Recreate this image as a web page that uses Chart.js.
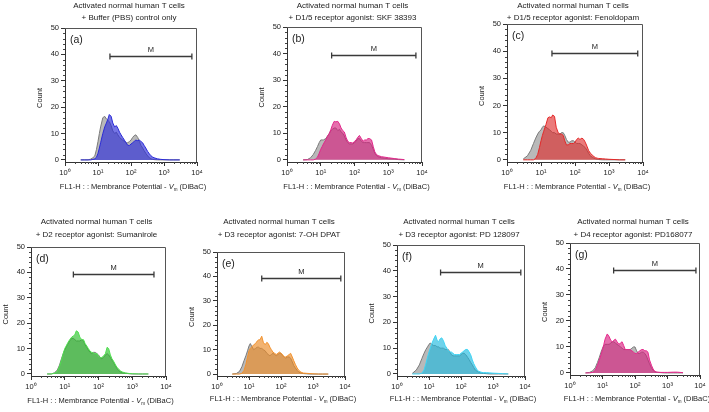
<!DOCTYPE html>
<html>
<head>
<meta charset="utf-8">
<script src="https://cdn.jsdelivr.net/npm/chart.js@4.4.0/dist/chart.umd.min.js"></script>
<style>
	html, body { margin: 0; padding: 0; background: #fff; }
	body { width: 709px; height: 412px; position: relative; overflow: hidden; }
	.panel { position: absolute; }
</style>
</head>
<body>
<script>
// FL1-H intensity bins (log axis)
const xs = [3, 4, 5, 6, 7, 8, 9, 10, 11, 12, 14, 16, 18, 20, 22, 25, 28, 32, 36, 40, 45, 50, 56, 63, 71, 80, 90, 100,
	112, 125, 140, 160, 180, 200, 225, 250, 280, 320, 360, 400, 450, 500, 630, 800, 1000, 1500, 2000, 3000];

// grey overlay = buffer control, coloured = treated
const controlA = [0, 0, 0, 0.3, 0.8, 1.5, 4, 7, 10, 12.5, 16, 16.5, 15.5, 15, 14.5, 13, 11, 10, 10.5, 9.5, 8.5, 8, 7.5, 7, 6.5, 6.5, 7, 7.5, 8.5, 9.2, 9.5, 8.5, 7, 5.5, 4.5, 3.5, 2.5, 1.5, 0.8, 0.4, 0.2, 0.1, 0, 0, 0, 0, 0, 0];
const treatedA = [0, 0, 0, 0, 0.2, 0.4, 1, 2.5, 4.5, 6.5, 10, 12.5, 14, 15.5, 17.2, 16.5, 14, 12.5, 13, 12, 10.5, 9.5, 8.5, 7.5, 6.5, 5.5, 5.5, 6, 6.5, 7, 7.5, 7.3, 7.5, 7, 6.5, 5.5, 4.5, 3.2, 2.3, 1.6, 1.1, 0.8, 0.4, 0.2, 0.1, 0, 0, 0];

const controlB = [0, 0.1, 0.8, 2, 3.5, 5, 6.5, 7.5, 7.5, 7.5, 8, 9, 10, 11, 11.5, 12, 12, 11, 11.5, 10.5, 10, 9, 7.5, 6.5, 6, 6, 6, 6.5, 7, 8, 8, 7, 6.5, 6.5, 6.5, 6.5, 6.5, 5.5, 4, 2.5, 1.6, 1.2, 0.8, 0.6, 0.4, 0.3, 0.1, 0];
const treatedB = [0, 0, 0, 0, 0.3, 1, 2.5, 4, 5, 6, 7.5, 9, 10, 11.5, 13, 14.5, 14.3, 14.5, 13.5, 12, 11, 10.5, 8.5, 7, 6.5, 6.5, 6.3, 7, 7.5, 8.5, 9.2, 8, 7, 7.5, 7.5, 8, 8, 7.5, 5, 3, 2, 1.6, 1.2, 1, 0.8, 0.5, 0.3, 0.1];

const controlC = [0.3, 1.5, 3.5, 6, 8, 9.5, 10.5, 11, 12, 12.5, 12, 11.5, 11, 10.5, 10, 10, 9.5, 9.5, 9.5, 10, 10, 9, 7.5, 6.5, 6.5, 7, 7, 6.5, 6, 6, 6, 5.5, 5, 4.5, 3.5, 2.5, 1.5, 1, 0.6, 0.4, 0.2, 0.1, 0, 0, 0, 0, 0, 0];
const treatedC = [0, 0, 0, 0, 0.5, 2, 4.5, 7, 9, 10.5, 13, 15.5, 15.8, 15.5, 16.5, 16, 12, 10, 9.5, 9.5, 9, 7, 5.5, 5.5, 6, 6, 6, 6.5, 7.5, 8, 7.5, 8, 7.5, 6.5, 5, 3.5, 2.5, 1.8, 1.2, 0.8, 0.6, 0.5, 0.4, 0.3, 0.2, 0.1, 0, 0];

const controlD = [0, 0, 0.5, 1.5, 3.5, 6, 8, 9.5, 10.5, 11.5, 13, 14, 14, 13.5, 13, 13, 13, 13.5, 13, 11.5, 10.5, 9.5, 8.5, 8, 8.5, 8.5, 8, 7.5, 6.5, 6, 6.5, 7.5, 8, 7.5, 6.5, 5.5, 4.5, 3, 2, 1.3, 0.8, 0.5, 0.3, 0.1, 0, 0, 0, 0];
const treatedD = [0, 0, 0.3, 1, 3, 5.5, 8, 10, 11, 12, 13.5, 14.5, 15, 15.5, 17, 16.5, 14.5, 13.5, 13.5, 12, 11, 10, 9, 8.5, 8.3, 8, 8, 7, 6.5, 6.5, 7, 8, 10.5, 10, 7.5, 6, 5, 3.5, 2.5, 1.8, 1.2, 0.8, 0.4, 0.2, 0.1, 0, 0, 0];

const controlE = [0, 0.2, 1, 3, 5.5, 7.5, 9.5, 11.5, 12.5, 11.5, 10, 10.5, 11, 11, 10.5, 10.5, 10, 9.5, 8.5, 8, 7.5, 8, 8.5, 8, 7.5, 8, 8.5, 8.5, 7.5, 7, 6.5, 7, 7, 6.5, 5, 3.5, 2.5, 1.5, 0.8, 0.5, 0.3, 0.2, 0.1, 0, 0, 0, 0, 0];
const treatedE = [0, 0, 0, 0.3, 1.5, 4, 7, 9.5, 10.5, 11, 12, 12.5, 13.5, 14, 14, 15.5, 13, 12, 13, 12.5, 11, 10, 9, 8.5, 8, 8.5, 9, 8.5, 8, 7, 7, 7.5, 8, 8.5, 7, 5.5, 4, 2.5, 1.5, 1, 0.6, 0.4, 0.3, 0.2, 0.1, 0, 0, 0];

const controlF = [0.2, 1.5, 3.5, 6, 8, 9.5, 10.5, 11.5, 12, 11.5, 11, 11, 10.5, 10.5, 10, 10, 10, 9.5, 9.5, 9.5, 8.5, 7.5, 7, 7, 7, 7, 7, 7.5, 8, 8, 7.5, 6.5, 5.5, 4.5, 3.5, 2.5, 1.5, 1, 0.6, 0.4, 0.3, 0.2, 0.1, 0, 0, 0, 0, 0];
const treatedF = [0, 0, 0, 0.3, 1.5, 4, 6.5, 8.5, 10, 11.5, 13.5, 15, 13, 12.5, 13.5, 14, 13, 11, 10, 9, 8.5, 8.5, 8, 7.5, 7.5, 7.5, 7.5, 8, 8.5, 9, 9.5, 9.5, 8.5, 7.5, 5.5, 4, 2.8, 1.5, 1, 0.8, 0.6, 0.5, 0.5, 0.4, 0.3, 0.2, 0.1, 0];

const controlG = [0, 0.2, 0.8, 2, 4, 6, 8, 9.5, 10.5, 11, 11, 11, 11.5, 12, 12, 11.5, 11, 10.5, 10, 9.5, 9, 9, 9, 9, 9, 9.5, 10, 10, 8.5, 7.5, 7.5, 8, 8, 7.5, 6.5, 5, 3.5, 2, 1, 0.5, 0.3, 0.2, 0.1, 0, 0, 0, 0, 0];
const treatedG = [0, 0, 0.2, 1, 3, 5, 7, 9, 11, 13, 15, 14, 12.5, 12, 12.5, 13, 12, 11, 11.5, 12, 10.5, 9, 9, 9, 9, 8.5, 8, 7.5, 7.5, 8, 8.5, 9, 9, 8.5, 8.5, 8, 5, 3, 1.5, 0.7, 0.4, 0.3, 0.2, 0.2, 0.2, 0.3, 0.3, 0.1];

const controls = [controlA, controlB, controlC, controlD, controlE, controlF, controlG];
const treated = [treatedA, treatedB, treatedC, treatedD, treatedE, treatedF, treatedG];

const panelLetters = ["(a)", "(b)", "(c)", "(d)", "(e)", "(f)", "(g)"];
const titleTop = "Activated normal human T cells";
const titleBottom = [
	"+ Buffer (PBS) control only",
	"+ D1/5 receptor agonist: SKF 38393",
	"+ D1/5 receptor agonist: Fenoldopam",
	"+ D2 receptor agonist: Sumanirole",
	"+ D3 receptor agonist: 7-OH DPAT",
	"+ D3 receptor agonist: PD 128097",
	"+ D4 receptor agonist: PD168077"
];

// marker gate "M"
const gateStart = [23, 21, 21, 18, 25, 23, 22];
const gateEnd = [7000, 6600, 7000, 4400, 7400, 7400, 7500];
const gateLevel = 39.5;

const yTicks = [0, 10, 20, 30, 40, 50];
const xTicks = [1, 10, 100, 1000, 10000];
const xTickLabels = ["10\u2070", "10\u00b9", "10\u00b2", "10\u00b3", "10\u2074"];

// layout: plot box [left, top(50), right, bottom(axis)], title line centres, x-title centre
const boxes = [
	[65, 28, 197, 162, 6, 18, 187],
	[287, 27, 422, 162, 6, 18, 187],
	[507, 24, 643, 162, 6, 18, 187],
	[31, 247, 166, 376, 222, 235, 401],
	[217, 252, 345, 376, 222, 235, 399],
	[397, 245, 525, 376, 222, 235, 399],
	[570, 243, 700, 375, 222, 235, 399]
];

const lineColors = ["#2a2ad6", "#e0288a", "#e42828", "#4fe04f", "#f2922e", "#3ed4f4", "#e6288c"];
const fillColors = ["rgba(45,45,215,0.66)", "rgba(215,30,125,0.64)", "rgba(222,40,40,0.62)", "rgba(40,190,40,0.64)",
	"rgba(236,140,40,0.66)", "rgba(30,185,222,0.64)", "rgba(215,30,125,0.64)"];

const FONT = "'Liberation Sans', Arial, Helvetica, sans-serif";

function drawXTitle(ctx, cx, cy) {
	const parts = [
		{ t: "FL1-H : : Membrance Potential - ", f: "7.5px " + FONT, dy: 0 },
		{ t: "V", f: "italic 7.5px " + FONT, dy: 0 },
		{ t: "m", f: "4.5px " + FONT, dy: 3 },
		{ t: " (DiBaC)", f: "7.5px " + FONT, dy: 0 }
	];
	let total = 0;
	parts.forEach(function (p) {
		ctx.font = p.f;
		p.w = ctx.measureText(p.t).width;
		total += p.w;
	});
	let x = cx - total / 2;
	ctx.textAlign = "left";
	ctx.textBaseline = "middle";
	parts.forEach(function (p) {
		ctx.font = p.f;
		ctx.fillText(p.t, x, cy + p.dy);
		x += p.w;
	});
}

function panelPlugin(i) {
	return {
		id: "panel" + i,
		afterDraw: function (chart) {
			const ctx = chart.ctx;
			const area = chart.chartArea;
			const sx = chart.scales.x;
			const sy = chart.scales.y;
			const oy = parseFloat(chart.canvas.parentNode.style.top);
			const b = boxes[i];

			ctx.save();
			// box top / right
			ctx.strokeStyle = "#555";
			ctx.lineWidth = 1;
			ctx.beginPath();
			ctx.moveTo(area.left, area.top + 0.5);
			ctx.lineTo(area.right - 0.5, area.top + 0.5);
			ctx.lineTo(area.right - 0.5, area.bottom);
			ctx.stroke();

			// minor ticks
			ctx.strokeStyle = "#444";
			ctx.beginPath();
			for (let k = 0; k < 4; k++) {
				for (let m = 2; m < 10; m++) {
					const px = Math.round(sx.getPixelForValue(m * Math.pow(10, k))) + 0.5;
					ctx.moveTo(px, area.bottom);
					ctx.lineTo(px, area.bottom + 2);
				}
			}
			for (let v = 2; v < 50; v += 2) {
				if (v % 10 === 0) continue;
				const py = Math.round(sy.getPixelForValue(v)) + 0.5;
				ctx.moveTo(area.left, py);
				ctx.lineTo(area.left - 2, py);
			}
			ctx.stroke();

			// gate bracket
			const gy = Math.round(sy.getPixelForValue(gateLevel)) + 0.5;
			const g1 = sx.getPixelForValue(gateStart[i]);
			const g2 = sx.getPixelForValue(gateEnd[i]);
			ctx.strokeStyle = "#3a3a3a";
			ctx.lineWidth = 1.3;
			ctx.beginPath();
			ctx.moveTo(g1, gy);
			ctx.lineTo(g2, gy);
			ctx.moveTo(g1, gy - 3);
			ctx.lineTo(g1, gy + 3);
			ctx.moveTo(g2, gy - 3);
			ctx.lineTo(g2, gy + 3);
			ctx.stroke();

			ctx.fillStyle = "#222";
			ctx.font = "7.5px " + FONT;
			ctx.textAlign = "center";
			ctx.textBaseline = "alphabetic";
			ctx.fillText("M", sx.getPixelForValue(Math.sqrt(gateStart[i] * gateEnd[i])), gy - 5);

			// panel letter
			ctx.font = "10.5px " + FONT;
			ctx.textAlign = "left";
			ctx.fillText(panelLetters[i], area.left + 5, area.top + 15);

			// titles
			const cx = (area.left + area.right) / 2 - 2;
			ctx.font = "8px " + FONT;
			ctx.textAlign = "center";
			ctx.textBaseline = "middle";
			ctx.fillText(titleTop, cx, b[4] - oy);
			ctx.fillText(titleBottom[i], cx, b[5] - oy);

			// y title
			ctx.save();
			ctx.translate(area.left - 25, (area.top + area.bottom) / 2 + 3);
			ctx.rotate(-Math.PI / 2);
			ctx.font = "7.5px " + FONT;
			ctx.fillText("Count", 0, 0);
			ctx.restore();

			// x title
			drawXTitle(ctx, (area.left + area.right) / 2 + 2, b[6] - oy);
			ctx.restore();
		}
	};
}

const padL = 48, padT = 54, padR = 12, padB = 40;

boxes.forEach(function (b, i) {
	const div = document.createElement("div");
	div.className = "panel";
	const w = b[2] - b[0] + padL + padR;
	const h = b[3] - b[1] + padT + padB;
	div.style.left = (b[0] - padL) + "px";
	div.style.top = (b[1] - padT) + "px";
	div.style.width = w + "px";
	div.style.height = h + "px";
	const canvas = document.createElement("canvas");
	canvas.width = w;
	canvas.height = h;
	div.appendChild(canvas);
	document.body.appendChild(div);

	new Chart(canvas, {
		type: "line",
		data: {
			datasets: [
				{
					data: xs.map((x, j) => ({ x: x, y: treated[i][j] })),
					borderColor: lineColors[i],
					backgroundColor: fillColors[i],
					borderWidth: 1,
					fill: "origin",
					pointRadius: 0,
					tension: 0
				},
				{
					data: xs.map((x, j) => ({ x: x, y: controls[i][j] })),
					borderColor: "#7a7a7a",
					backgroundColor: "#b9b9b9",
					borderWidth: 1,
					fill: "origin",
					pointRadius: 0,
					tension: 0
				}
			]
		},
		options: {
			responsive: false,
			animation: false,
			devicePixelRatio: 1,
			layout: { padding: { left: 0, top: padT, right: padR, bottom: 0 } },
			plugins: {
				legend: { display: false },
				tooltip: { enabled: false },
				title: { display: false }
			},
			scales: {
				x: {
					type: "logarithmic",
					min: 1,
					max: 10000,
					afterBuildTicks: function (s) { s.ticks = xTicks.map(v => ({ value: v })); },
					afterFit: function (s) { s.height = padB; },
					ticks: {
						autoSkip: false,
						maxRotation: 0,
						padding: 2,
						color: "#222",
						font: { size: 7.5, family: FONT },
						callback: function (v) {
							const k = xTicks.indexOf(v);
							return k >= 0 ? xTickLabels[k] : "";
						}
					},
					grid: { drawOnChartArea: false, drawTicks: true, tickLength: 4, tickColor: "#333" },
					border: { color: "#333", width: 1 }
				},
				y: {
					min: -0.8,
					max: 50,
					afterBuildTicks: function (s) { s.ticks = yTicks.map(v => ({ value: v })); },
					afterFit: function (s) { s.width = padL; },
					ticks: {
						padding: 2,
						color: "#222",
						font: { size: 7.5, family: FONT }
					},
					grid: { drawOnChartArea: false, drawTicks: true, tickLength: 4, tickColor: "#333" },
					border: { color: "#333", width: 1 }
				}
			}
		},
		plugins: [panelPlugin(i)]
	});
});
</script>
</body>
</html>
